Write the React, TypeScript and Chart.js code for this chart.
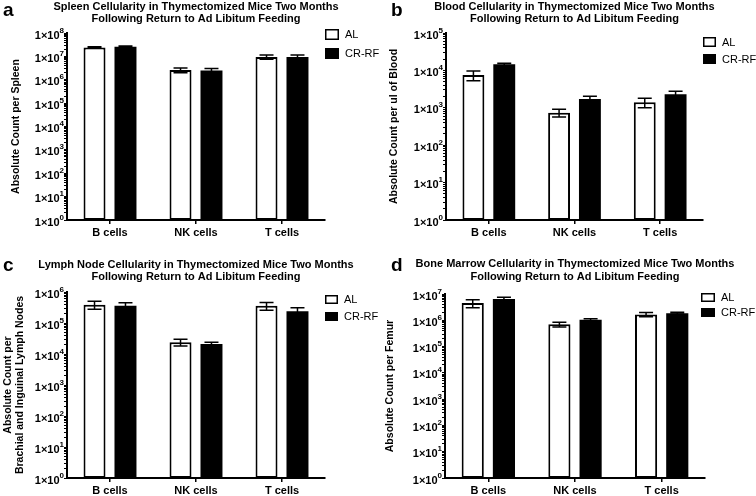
import React, { useEffect, useRef } from "react";
import { Chart, registerables } from "chart.js";

Chart.register(...registerables);
Chart.defaults.font.family = "'Liberation Sans', Arial, Helvetica, sans-serif";
Chart.defaults.color = "#000";

// ---------- DATA ----------
const categories = ["B cells", "NK cells", "T cells"];
const seriesNames = ["AL", "CR-RF"];

// a: Spleen
const spleenAL = [2.4e7, 2.6e6, 9.5e6];
const spleenALErr = [2.0e6, 0.6e6, 2.0e6];
const spleenCR = [2.6e7, 2.5e6, 9.3e6];
const spleenCRErr = [1.5e6, 0.5e6, 2.2e6];
const spleenTickLabels = ["1×10^0", "1×10^1", "1×10^2", "1×10^3", "1×10^4", "1×10^5", "1×10^6", "1×10^7", "1×10^8"];

// b: Blood
const bloodAL = [7.5e3, 740, 1400];
const bloodALErr = [2.2e3, 170, 400];
const bloodCR = [1.45e4, 1720, 2300];
const bloodCRErr = [1.0e3, 320, 450];
const bloodTickLabels = ["1×10^0", "1×10^1", "1×10^2", "1×10^3", "1×10^4", "1×10^5"];

// c: Lymph node
const lymphAL = [3.9e5, 2.4e4, 3.6e5];
const lymphALErr = [1.1e5, 6e3, 1.0e5];
const lymphCR = [3.6e5, 2.1e4, 2.4e5];
const lymphCRErr = [0.9e5, 3e3, 0.7e5];
const lymphTickLabels = ["1×10^0", "1×10^1", "1×10^2", "1×10^3", "1×10^4", "1×10^5", "1×10^6"];

// d: Bone marrow
const marrowAL = [4.5e6, 7.0e5, 1.66e6];
const marrowALErr = [1.5e6, 1.5e5, 3e5];
const marrowCR = [6.5e6, 1.04e6, 1.87e6];
const marrowCRErr = [1.0e6, 1e5, 1.5e5];
const marrowTickLabels = ["1×10^0", "1×10^1", "1×10^2", "1×10^3", "1×10^4", "1×10^5", "1×10^6", "1×10^7"];

const titleLine2 = "Following Return to Ad Libitum Feeding";

// ---------- PANELS (layout) ----------
type Panel = {
  letter: string;
  title: string[];
  yTitle: string | string[];
  al: number[];
  alErr: number[];
  cr: number[];
  crErr: number[];
  tickLabels: string[];
  x: number;
  y: number;
  w: number;
  h: number;
  area: { left: number; right: number; top: number; bottom: number };
  letterPos: [number, number];
  titleBase: [number, number];
  yTitlePad: number;
  yTitleLH: number;
  legend: { dx: number; y: number; bw: number; bh: number; gap: number };
};

const panels: Panel[] = [
  {
    letter: "a",
    title: ["Spleen Cellularity in Thymectomized Mice Two Months", titleLine2],
    yTitle: "Absolute Count per Spleen",
    al: spleenAL, alErr: spleenALErr, cr: spleenCR, crErr: spleenCRErr,
    tickLabels: spleenTickLabels,
    x: 0, y: 0, w: 392, h: 248,
    area: { left: 67, right: 325, top: 33, bottom: 220 },
    letterPos: [3, 16],
    titleBase: [10, 22],
    yTitlePad: 10, yTitleLH: 1.2,
    legend: { dx: 0, y: 29, bw: 14, bh: 11, gap: 19 },
  },
  {
    letter: "b",
    title: ["Blood Cellularity in Thymectomized Mice Two Months", titleLine2],
    yTitle: "Absolute Count per ul of Blood",
    al: bloodAL, alErr: bloodALErr, cr: bloodCR, crErr: bloodCRErr,
    tickLabels: bloodTickLabels,
    x: 378, y: 0, w: 378, h: 248,
    area: { left: 68, right: 325, top: 33, bottom: 220 },
    letterPos: [13, 16],
    titleBase: [10, 22],
    yTitlePad: 10, yTitleLH: 1.2,
    legend: { dx: 0, y: 37, bw: 13, bh: 10, gap: 17 },
  },
  {
    letter: "c",
    title: ["Lymph Node Cellularity in Thymectomized Mice Two Months", titleLine2],
    yTitle: ["Absolute Count per", "Brachial and Inguinal Lymph Nodes"],
    al: lymphAL, alErr: lymphALErr, cr: lymphCR, crErr: lymphCRErr,
    tickLabels: lymphTickLabels,
    x: 0, y: 248, w: 392, h: 248,
    area: { left: 67, right: 325, top: 44, bottom: 230 },
    letterPos: [3, 23],
    titleBase: [20, 32],
    yTitlePad: 2, yTitleLH: 1.15,
    legend: { dx: 0, y: 47, bw: 13, bh: 9, gap: 17 },
  },
  {
    letter: "d",
    title: ["Bone Marrow Cellularity in Thymectomized Mice Two Months", titleLine2],
    yTitle: "Absolute Count per Femur",
    al: marrowAL, alErr: marrowALErr, cr: marrowCR, crErr: marrowCRErr,
    tickLabels: marrowTickLabels,
    x: 378, y: 248, w: 378, h: 248,
    area: { left: 67, right: 327, top: 46, bottom: 230 },
    letterPos: [13, 23],
    titleBase: [19, 32],
    yTitlePad: 6, yTitleLH: 1.2,
    legend: { dx: -4, y: 45, bw: 14, bh: 9, gap: 15 },
  },
];

const FONT = "'Liberation Sans', Arial, Helvetica, sans-serif";

const decorPlugin = {
  id: "panelDecor",
  afterDraw(chart: any, _args: any, opts: any) {
    const ctx = chart.ctx;
    const ca = chart.chartArea;
    const yScale = chart.scales.y;
    ctx.save();
    ctx.fillStyle = "#000";
    ctx.textBaseline = "alphabetic";
    // panel letter
    ctx.font = `bold 19px ${FONT}`;
    ctx.textAlign = "left";
    ctx.fillText(opts.letter, opts.letterPos[0], opts.letterPos[1]);
    // title
    ctx.font = `bold 11px ${FONT}`;
    ctx.textAlign = "center";
    const cx = (ca.left + ca.right) / 2;
    opts.title.forEach((t: string, i: number) => ctx.fillText(t, cx, opts.titleBase[i]));
    // y tick labels with real superscript exponent
    opts.tickLabels.forEach((lab: string, e: number) => {
      const [base, exp] = lab.split("^");
      const y = yScale.getPixelForValue(Math.pow(10, e));
      ctx.font = `bold 8px ${FONT}`;
      const ew = ctx.measureText(exp).width;
      const xr = ca.left - 3;
      ctx.textAlign = "left";
      ctx.textBaseline = "alphabetic";
      ctx.fillText(exp, xr - ew, y - 0.5);
      ctx.font = `bold 11px ${FONT}`;
      ctx.textAlign = "right";
      ctx.fillText(base, xr - ew, y + 5.5);
    });
    // legend
    const lg = opts.legend;
    ctx.textAlign = "left";
    ctx.textBaseline = "middle";
    ctx.font = `11px ${FONT}`;
    opts.names.forEach((name: string, i: number) => {
      const bx = ca.right + lg.dx;
      const by = lg.y + i * lg.gap;
      ctx.fillStyle = i === 0 ? "#fff" : "#000";
      ctx.fillRect(bx, by, lg.bw, lg.bh);
      ctx.strokeStyle = "#000";
      ctx.lineWidth = 1.5;
      ctx.strokeRect(bx + 0.75, by + 0.75, lg.bw - 1.5, lg.bh - 1.5);
      ctx.fillStyle = "#000";
      ctx.fillText(name, bx + lg.bw + 6, by + lg.bh / 2 + 0.5);
    });
    ctx.restore();
  },
};

const errorBarPlugin = {
  id: "errorBars",
  afterDatasetsDraw(chart: any, _args: any, opts: any) {
    const ctx = chart.ctx;
    const yScale = chart.scales.y;
    ctx.save();
    ctx.strokeStyle = "#000";
    ctx.lineWidth = 1.5;
    chart.data.datasets.forEach((ds: any, i: number) => {
      const meta = chart.getDatasetMeta(i);
      const errs = opts.errors[i];
      meta.data.forEach((bar: any, j: number) => {
        const v = ds.data[j];
        const e = errs[j];
        const x = bar.x;
        const yt = yScale.getPixelForValue(v + e);
        const yb = yScale.getPixelForValue(Math.max(v - e, 1));
        const cap = opts.cap / 2;
        ctx.beginPath();
        ctx.moveTo(x, yt);
        ctx.lineTo(x, yb);
        ctx.moveTo(x - cap, yt);
        ctx.lineTo(x + cap, yt);
        ctx.moveTo(x - cap, yb);
        ctx.lineTo(x + cap, yb);
        ctx.stroke();
      });
    });
    ctx.restore();
  },
};

function PanelChart({ p }: { p: Panel }) {
  const ref = useRef<HTMLCanvasElement | null>(null);
  useEffect(() => {
    if (!ref.current) return;
    const maxExp = p.tickLabels.length - 1;
    const chart = new Chart(ref.current, {
      type: "bar",
      data: {
        labels: categories,
        datasets: [
          {
            label: seriesNames[0],
            data: p.al,
            backgroundColor: "#fff",
            borderColor: "#000",
            borderWidth: 2,
            borderSkipped: false,
            categoryPercentage: 0.72,
            barPercentage: 0.71,
          },
          {
            label: seriesNames[1],
            data: p.cr,
            backgroundColor: "#000",
            borderColor: "#000",
            borderWidth: 0,
            borderSkipped: false,
            categoryPercentage: 0.72,
            barPercentage: 0.71,
          },
        ],
      },
      options: {
        responsive: false,
        animation: false,
        devicePixelRatio: 1,
        events: [],
        layout: {
          padding: { left: 0, top: p.area.top, right: p.w - p.area.right, bottom: 0 },
        },
        plugins: {
          legend: { display: false },
          title: { display: false },
          tooltip: { enabled: false },
          panelDecor: {
            letter: p.letter,
            letterPos: p.letterPos,
            title: p.title,
            titleBase: p.titleBase,
            legend: p.legend,
            names: seriesNames,
            tickLabels: p.tickLabels,
          },
          errorBars: { errors: [p.alErr, p.crErr], cap: 14 },
        } as any,
        scales: {
          x: {
            type: "category",
            offset: true,
            grid: {
              display: true,
              drawOnChartArea: false,
              drawTicks: true,
              tickLength: 4,
              offset: false,
              color: "#000",
              lineWidth: 1.5,
            },
            border: { display: true, color: "#000", width: 2 },
            ticks: {
              color: "#000",
              font: { size: 11, weight: "bold" },
              padding: 2,
              maxRotation: 0,
              autoSkip: false,
            },
            afterFit: (s: any) => {
              s.height = p.h - p.area.bottom;
            },
          },
          y: {
            type: "logarithmic",
            min: 1,
            max: Math.pow(10, maxExp),
            afterBuildTicks: (s: any) => {
              const t: { value: number }[] = [];
              for (let e = 0; e < maxExp; e++) {
                for (let m = 1; m <= 9; m++) t.push({ value: m * Math.pow(10, e) });
              }
              t.push({ value: Math.pow(10, maxExp) });
              s.ticks = t;
            },
            afterFit: (s: any) => {
              s.width = p.area.left;
            },
            grid: {
              display: true,
              drawOnChartArea: false,
              drawTicks: true,
              tickLength: 3,
              color: "#000",
              lineWidth: 1,
            },
            border: { display: true, color: "#000", width: 2 },
            ticks: {
              autoSkip: false,
              padding: 1,
              color: "#000",
              font: { size: 11, weight: "bold" },
              callback: () => "",
            },
            title: {
              display: true,
              text: p.yTitle as any,
              color: "#000",
              font: { size: 10.5, weight: "bold", lineHeight: p.yTitleLH },
              padding: { top: p.yTitlePad, bottom: 0 },
            },
          },
        },
      } as any,
      plugins: [decorPlugin, errorBarPlugin],
    });
    return () => chart.destroy();
  }, [p]);
  return (
    <canvas
      ref={ref}
      width={p.w}
      height={p.h}
      style={{ position: "absolute", left: p.x, top: p.y, width: p.w, height: p.h }}
    />
  );
}

export default function App() {
  return (
    <div
      style={{
        position: "absolute",
        left: 0,
        top: 0,
        width: 756,
        height: 496,
        background: "#fff",
        overflow: "hidden",
      }}
    >
      {panels.map((p) => (
        <PanelChart key={p.letter} p={p} />
      ))}
    </div>
  );
}
